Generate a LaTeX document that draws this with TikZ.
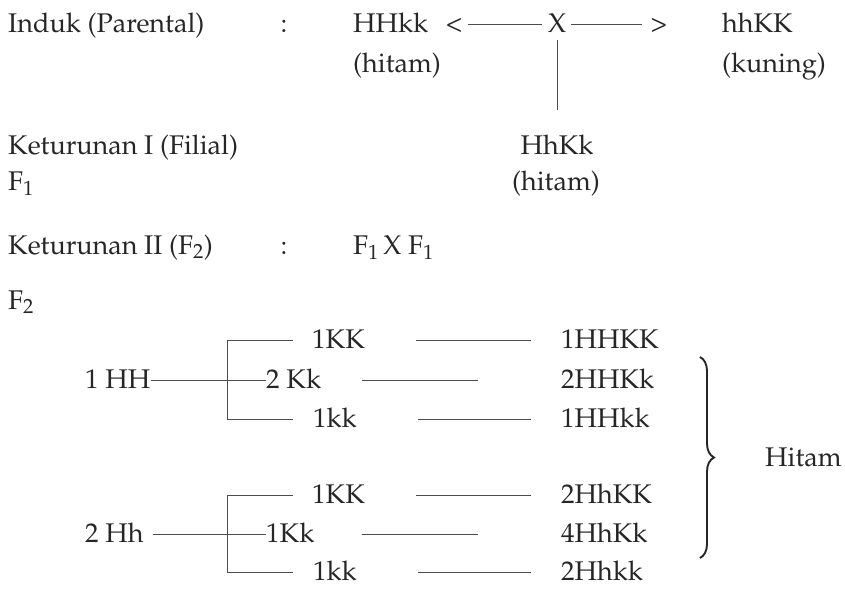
\documentclass[tikz,border=0pt]{standalone}
\usepackage[T1]{fontenc}
\usepackage{mathpazo}
\usetikzlibrary{decorations.pathreplacing}

\begin{document}
\begin{tikzpicture}[x=1pt, y=-1pt,
  txt/.style={anchor=base west, inner sep=0pt, text height=15pt, text depth=0pt,
              text=black!85, font=\fontsize{27}{32}\selectfont},
  ctr/.style={txt, anchor=base},
  link/.style={draw=black!70, line width=0.9pt},
  curly/.style={draw=black!85, line width=1.9pt, decorate,
                decoration={brace, amplitude=14pt}}]
  \useasboundingbox (0,0) rectangle (845,589);

  \node[txt] (induk) at (8,32) {Induk (Parental)};
  \node[ctr] (col1) at (284,32) {:};
  \node[txt] (pHH) at (353,32) {HHkk};
  \node[ctr] (lt) at (454,32) {<};
  \node[ctr] (X) at (557,32) {X};
  \node[ctr] (gt) at (659,32) {>};
  \node[txt] (phh) at (722,32) {hhKK};
  \node[txt] (hitamA) at (353,72) {(hitam)};
  \node[txt] (kuning) at (722,72) {(kuning)};

  \node[txt] (ketA) at (8,154) {Keturunan I (Filial)};
  \node[ctr] (fA) at (557,154) {HhKk};
  \node[txt] (Fone) at (8,190) {F$_1$};
  \node[ctr] (hitamB) at (556,190) {(hitam)};
  \draw[link, shorten <=6pt, shorten >=6pt] (lt) -- (X);
  \draw[link, shorten <=5pt, shorten >=9pt] (X) -- (gt);
  \draw[link, shorten <=8pt, shorten >=29pt] (X) -- (fA);

  \node[txt] (ketB) at (8,254) {Keturunan II (F$_2$)};
  \node[ctr] (col2) at (284,254) {:};
  \node[txt] (cross) at (353,254) {F$_1$\,X F$_1$};
  \node[txt] (Ftwo) at (8,309) {F$_2$};

  \node[txt] (HH) at (85,388) {1 HH};
  \node[txt] (a1) at (312,348) {1KK};
  \node[txt] (a2) at (266,388) {2 Kk};
  \node[txt] (a3) at (313,427) {1kk};
  \node[txt] (ar1) at (561,348) {1HHKK};
  \node[txt] (ar2) at (561,388) {2HHKk};
  \node[txt] (ar3) at (561,427) {1HHkk};
  \draw[link] (HH) -- (a2);
  \draw[link] ([xshift=-19pt]a1.west) -- ([xshift=-85pt]a1.west)
    -- ([xshift=-86pt]a3.west) -- ([xshift=-20pt]a3.west);
  \draw[link, shorten <=51pt, shorten >=30pt] (a1) -- (ar1);
  \draw[link, shorten <=41pt, shorten >=83pt] (a2) -- (ar2);
  \draw[link, shorten <=61pt, shorten >=30pt] (a3) -- (ar3);

  \node[txt] (Hh) at (85,542) {2 Hh};
  \node[txt] (b1) at (312,503) {1KK};
  \node[txt] (b2) at (266,542) {1Kk};
  \node[txt] (b3) at (313,580) {1kk};
  \node[txt] (br1) at (561,503) {2HhKK};
  \node[txt] (br2) at (561,542) {4HhKk};
  \node[txt] (br3) at (561,580) {2Hhkk};
  \draw[link, shorten <=9pt] (Hh) -- (b2);
  \draw[link] ([xshift=-19pt]b1.west) -- ([xshift=-85pt]b1.west)
    -- ([xshift=-86pt]b3.west) -- ([xshift=-20pt]b3.west);
  \draw[link, shorten <=51pt, shorten >=30pt] (b1) -- (br1);
  \draw[link, shorten <=47pt, shorten >=83pt] (b2) -- (br2);
  \draw[link, shorten <=61pt, shorten >=30pt] (b3) -- (br3);

  \coordinate (bt) at (700,357);
  \coordinate (bb) at (700,558);
  \draw[curly] (bt) -- (bb);
  \node[txt] (hitamC) at (765,466) {Hitam};
\end{tikzpicture}
\end{document}
